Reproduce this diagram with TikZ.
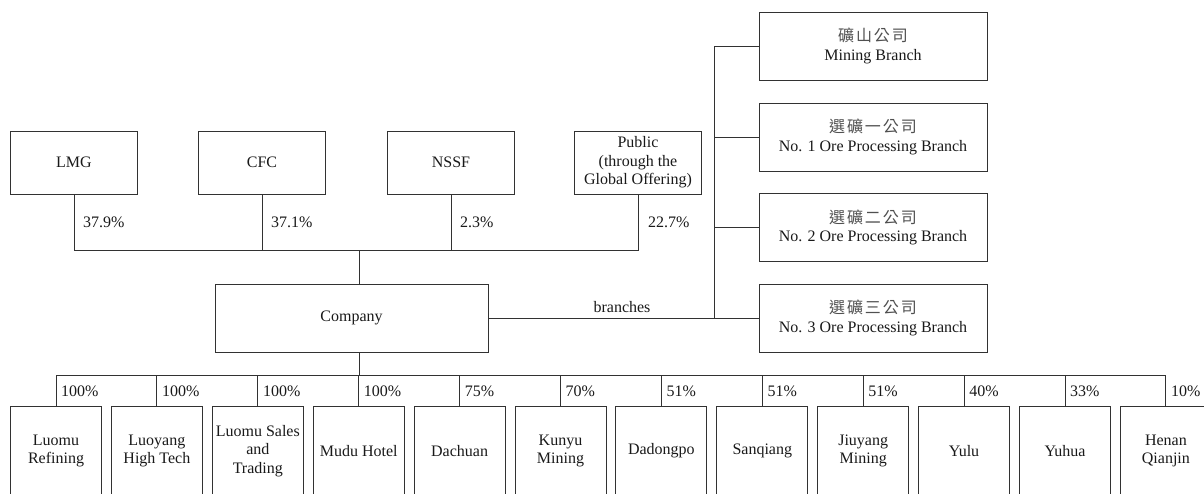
\documentclass[tikz,border=0pt]{standalone}
\usepackage{fontspec}
\setmainfont{Liberation Serif}
\newfontfamily\cjkfont[LetterSpace=12]{Noto Sans CJK TC}
\definecolor{ln}{RGB}{50,50,50}
\definecolor{tx}{RGB}{25,25,25}
\definecolor{cjktx}{RGB}{80,80,80}
\newcommand{\cjk}{\cjkfont\color{cjktx}}
\begin{document}
\begin{tikzpicture}[x=1pt,y=-1pt,
  every node/.style={text=tx, font=\fontsize{16}{18.5}\selectfont},
  box/.style={draw=ln, line width=0.9pt, rectangle, inner sep=1pt, align=center},
  hbox/.style={box, minimum width=127, minimum height=63},
  brbox/.style={box, minimum width=228, minimum height=68},
  sbox/.style={box, minimum width=91, minimum height=90},
  pct/.style={anchor=base west, inner sep=0pt},
  conn/.style={draw=ln, line width=0.9pt}]
\useasboundingbox (0,0) rectangle (1204,493);
\clip (0,0) rectangle (1204,493);

% shareholders
\node[hbox] (lmg)  at (74,162.5)  {LMG};
\node[hbox] (cfc)  at (262,162.5) {CFC};
\node[hbox] (nssf) at (451,162.5) {NSSF};
\node[hbox] (pub)  at (638,162.5) {Public\\(through the\\Global Offering)};
\coordinate (hub) at (359,250);
\draw[conn] (lmg.south) |- (hub);
\draw[conn] (pub.south) |- (hub);
\draw[conn] (cfc.south) -- (cfc.south |- hub);
\draw[conn] (nssf.south) -- (nssf.south |- hub);
\node[pct] (p1) at (83,227) {37.9\%};
\node[pct] (p2) at (271,227) {37.1\%};
\node[pct] (p3) at (460,227) {2.3\%};
\node[pct] (p4) at (648,227) {22.7\%};

% company
\node[box, minimum width=273, minimum height=68] (co) at (351.5,318) {Company};
\draw[conn] (hub) -- (hub |- co.north);

% branches
\node[brbox] (b1) at (873,46)  {{\cjk 礦山公司}\\Mining Branch};
\node[brbox] (b2) at (873,137) {{\cjk 選礦一公司}\\No. 1 Ore Processing Branch};
\node[brbox] (b3) at (873,227.5) {{\cjk 選礦二公司}\\No. 2 Ore Processing Branch};
\node[brbox] (b4) at (873,318) {{\cjk 選礦三公司}\\No. 3 Ore Processing Branch};
\draw[conn] (co.east |- b4.west) -- (b4.west);
\coordinate (bt) at (714,46);
\draw[conn] (b1.west) -- (bt) -- (bt |- b4.west);
\draw[conn] (b2.west) -- (b2.west -| bt);
\draw[conn] (b3.west) -- (b3.west -| bt);
\node[anchor=base, inner sep=0pt] (brl) at (622,312) {branches};

% subsidiaries
\node[sbox] (s1)  at (56,451)     {Luomu\\Refining};
\node[sbox] (s2)  at (156.9,451)  {Luoyang\\High Tech};
\node[sbox, inner sep=0pt] (s3)  at (257.8,451)  {Luomu Sales\\and\\Trading};
\node[sbox] (s4)  at (358.7,451)  {Mudu Hotel};
\node[sbox] (s5)  at (459.6,451)  {Dachuan};
\node[sbox] (s6)  at (560.5,451)  {Kunyu\\Mining};
\node[sbox] (s7)  at (661.4,451)  {Dadongpo};
\node[sbox] (s8)  at (762.3,451)  {Sanqiang};
\node[sbox] (s9)  at (863.2,451)  {Jiuyang\\Mining};
\node[sbox] (s10) at (964.1,451)  {Yulu};
\node[sbox] (s11) at (1065,451)   {Yuhua};
\node[sbox] (s12) at (1165.9,451) {Henan\\Qianjin};
\coordinate (bar) at (359,375);
\draw[conn] (co.south -| bar) -- (bar);
\draw[conn] (s1.north |- bar) -- (s12.north |- bar);
\foreach \i in {1,...,12} {
  \draw[conn] (s\i.north |- bar) -- (s\i.north);
}
\foreach \i/\p in {1/100,2/100,3/100,4/100,5/75,6/70,7/51,8/51,9/51,10/40,11/33,12/10} {
  \node[pct] (q\i) at ([xshift=5pt]s\i.north |- 0,396) {\p\%};
}
\end{tikzpicture}
\end{document}
